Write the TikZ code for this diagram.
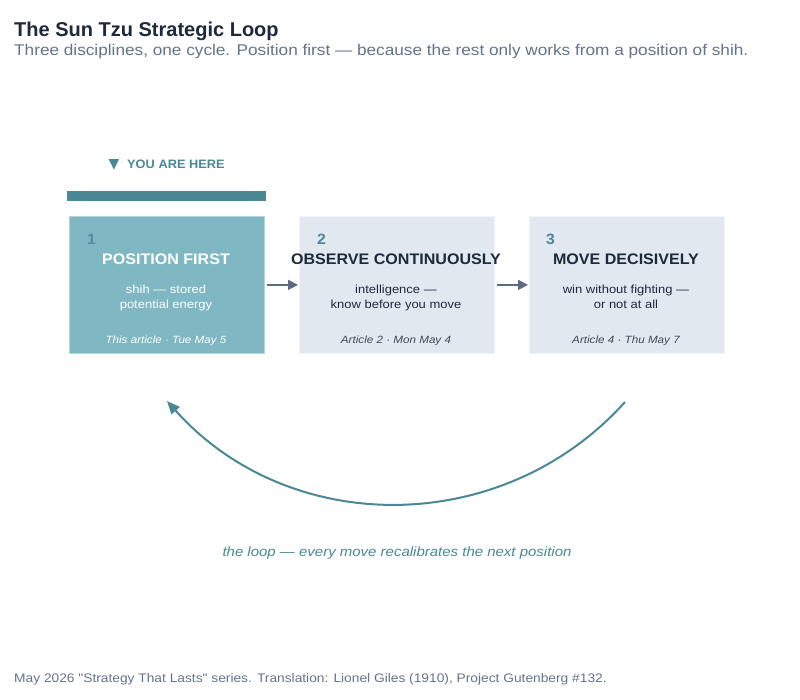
\documentclass[tikz,border=0pt]{standalone}
\usepackage{fontspec}
\setmainfont{Liberation Sans}
\newfontfamily\regf{Liberation Sans}[FakeStretch=1.11]
\newfontfamily\bldf{Liberation Sans}[FakeStretch=1.05]
\newfontfamily\symf{DejaVu Sans}
\usetikzlibrary{arrows.meta}
\definecolor{teal}{HTML}{4A8896}
\definecolor{tealbox}{HTML}{7FB7C3}
\definecolor{lightbox}{HTML}{E1E8F0}
\definecolor{ink}{HTML}{1E293B}
\definecolor{slate}{HTML}{64748B}
\definecolor{arrowgray}{HTML}{5B6B82}
\tikzset{
  card/.style={minimum width=195pt, minimum height=137pt, inner sep=0pt, anchor=north west},
  activecard/.style={card, fill=tealbox, draw=tealbox!60!white, line width=0.8pt},
  othercard/.style={card, fill=lightbox, draw=lightbox!50!white, line width=0.8pt},
  txt/.style={inner sep=0pt, anchor=base},
  numtxt/.style={txt, font=\bldf\bfseries\fontsize{15}{18}\selectfont, anchor=base west},
  headtxt/.style={txt, font=\bldf\bfseries\fontsize{15.3}{18}\selectfont},
  subtxt/.style={txt, font=\regf\fontsize{11.7}{14.3}\selectfont, align=center},
  datetxt/.style={txt, font=\regf\itshape\fontsize{10.5}{12}\selectfont},
  flow/.style={-{Triangle[length=10pt,width=10pt]}, draw=arrowgray, line width=1.8pt},
  loop/.style={-{Triangle[length=13pt,width=11pt]}, draw=teal, line width=2pt},
}
\begin{document}
\begin{tikzpicture}[x=1pt,y=-1pt]
\useasboundingbox (0,0) rectangle (800,700);
\fill[white] (0,0) rectangle (800,700);

% header
\node[txt, anchor=base west, font=\bfseries\fontsize{20}{22}\selectfont, text=ink] (title) at (14,36.5) {The Sun Tzu Strategic Loop};
\node[txt, anchor=base west, font=\regf\fontsize{15.5}{18}\selectfont, text=slate] (subtitle) at (14,55.5) {Three disciplines, one cycle. Position first — because the rest only works from a position of shih.};

% you are here
\node[txt, anchor=base west, font=\symf\fontsize{14}{14}\selectfont, text=teal] (tri) at (108.5,168.5) {▼};
\node[txt, anchor=base west, font=\bldf\bfseries\fontsize{12.2}{14}\selectfont, text=teal] (here) at (127,169) {YOU ARE HERE};
\fill[teal] (67,191) rectangle (266,201);

% cards
\node[activecard] (b1) at (69,216) {};
\node[othercard] (b2) at (299,216) {};
\node[othercard] (b3) at (529,216) {};

% card 1
\node[numtxt, text=teal!85!tealbox] (n1) at (87,245) {1};
\node[headtxt, text=white] (h1) at (166,265) {POSITION FIRST};
\node[subtxt, text=white] (s1) at (166,308.3) {shih — stored\\potential energy};
\node[datetxt, text=white] (d1) at (166,343.3) {This article · Tue May 5};

% card 2
\node[numtxt, text=teal] (n2) at (317,245) {2};
\node[headtxt, text=ink] (h2) at (396,265) {OBSERVE CONTINUOUSLY};
\node[subtxt, text=ink] (s2) at (396,308.3) {intelligence —\\know before you move};
\node[datetxt, text=ink!85!white] (d2) at (396,343.3) {Article 2 · Mon May 4};

% card 3
\node[numtxt, text=teal] (n3) at (546,245) {3};
\node[headtxt, text=ink] (h3) at (626,265) {MOVE DECISIVELY};
\node[subtxt, text=ink] (s3) at (626,308.3) {win without fighting —\\or not at all};
\node[datetxt, text=ink!85!white] (d3) at (626,343.3) {Article 4 · Thu May 7};

% flow arrows
\draw[flow, shorten <=2pt, shorten >=1pt] (b1.east) -- (b2.west);
\draw[flow, shorten <=2pt, shorten >=1pt] (b2.east) -- (b3.west);

% loop
\coordinate (ls) at (625,402);
\coordinate (le) at (167,401);
\draw[loop] (ls) .. controls (502.7,537.8) and (289.3,537.8) .. (le);
\node[txt, font=\regf\itshape\fontsize{13.5}{15}\selectfont, text=teal] (cap) at (397,556) {the loop — every move recalibrates the next position};

% footer
\node[txt, anchor=base west, font=\regf\fontsize{12.4}{14}\selectfont, text=slate] (foot) at (14,682.5) {May 2026 "Strategy That Lasts" series. Translation: Lionel Giles (1910), Project Gutenberg \#132.};
\end{tikzpicture}
\end{document}
